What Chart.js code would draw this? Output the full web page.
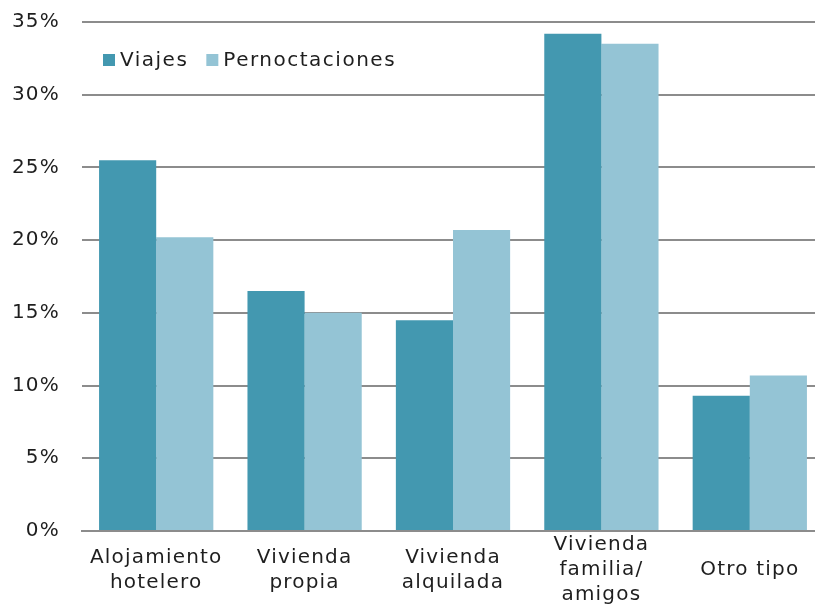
<!DOCTYPE html>
<html>
<head>
<meta charset="utf-8">
<script src="https://cdn.jsdelivr.net/npm/chart.js@4.4.1/dist/chart.umd.min.js"></script>
<style>
  html, body { margin: 0; padding: 0; background: #fff; overflow: hidden; }
  #wrap { width: 815px; height: 608px; overflow: hidden; }
</style>
</head>
<body>
<div id="wrap"><canvas id="chart" width="824" height="608"></canvas></div>
<script>
// categories and values (percent)
const categories = [
  ['Alojamiento', 'hotelero'],
  ['Vivienda', 'propia'],
  ['Vivienda', 'alquilada'],
  ['Vivienda', 'familia/', 'amigos'],
  'Otro tipo',
];
const viajes = [25.5, 16.5, 14.5, 34.2, 9.3];
const pernoctaciones = [20.2, 15.0, 20.7, 33.5, 10.7];
const yTicks = [0, 5, 10, 15, 20, 25, 30, 35];

const colViajes = '#4398b0';
const colPernoct = '#94c4d5';
const textColor = '#1e1e1e';

// wide-ish letter spacing like the source
const spacing = {
  id: 'spacing',
  beforeUpdate(chart) { chart.ctx.letterSpacing = '1.2px'; },
  beforeDraw(chart) { chart.ctx.letterSpacing = '1.2px'; },
};

// legend drawn inside the plot, top left
const innerLegend = {
  id: 'innerLegend',
  afterDraw(chart) {
    const ctx = chart.ctx;
    const area = chart.chartArea;
    ctx.save();
    ctx.letterSpacing = '1.5px';
    ctx.font = '20px "DejaVu Sans"';
    ctx.textBaseline = 'middle';
    let x = area.left + 21;
    const y = area.top + 38;
    chart.data.datasets.forEach((ds) => {
      ctx.fillStyle = ds.backgroundColor;
      ctx.fillRect(x, y - 6, 12, 12);
      ctx.fillStyle = textColor;
      ctx.fillText(ds.label, x + 17, y + 1);
      x += 17 + ctx.measureText(ds.label).width + 18;
    });
    ctx.restore();
  },
};

new Chart(document.getElementById('chart').getContext('2d'), {
  type: 'bar',
  data: {
    labels: categories,
    datasets: [
      {
        label: 'Viajes',
        data: viajes,
        backgroundColor: colViajes,
        categoryPercentage: 0.77,
        barPercentage: 1.0,
      },
      {
        label: 'Pernoctaciones',
        data: pernoctaciones,
        backgroundColor: colPernoct,
        categoryPercentage: 0.77,
        barPercentage: 1.0,
      },
    ],
  },
  options: {
    responsive: false,
    animation: false,
    layout: {
      padding: { top: 22, left: 12, right: 0, bottom: 0 },
    },
    scales: {
      x: {
        afterFit(axis) { axis.height = 77; },
        grid: { display: false, drawTicks: false },
        border: { display: true, color: '#8c8c8c', width: 2 },
        ticks: {
          color: textColor,
          padding: 14,
          crossAlign: 'center',
          maxRotation: 0,
          autoSkip: false,
          font: { family: 'DejaVu Sans', size: 20, lineHeight: 1.25 },
        },
      },
      y: {
        min: 0,
        max: 35,
        afterFit(axis) {
          axis.width = 70;
          axis.paddingTop = 0;
          axis.paddingBottom = 0;
        },
        afterBuildTicks(axis) {
          axis.ticks = yTicks.map((v) => ({ value: v }));
        },
        grid: { color: '#8c8c8c', lineWidth: 2, drawTicks: false },
        border: { display: false },
        ticks: {
          color: textColor,
          padding: 22,
          font: { family: 'DejaVu Sans', size: 20 },
          callback: (v) => v + '%',
        },
      },
    },
    plugins: {
      legend: { display: false },
      tooltip: { enabled: false },
    },
  },
  plugins: [spacing, innerLegend],
});
</script>
</body>
</html>
